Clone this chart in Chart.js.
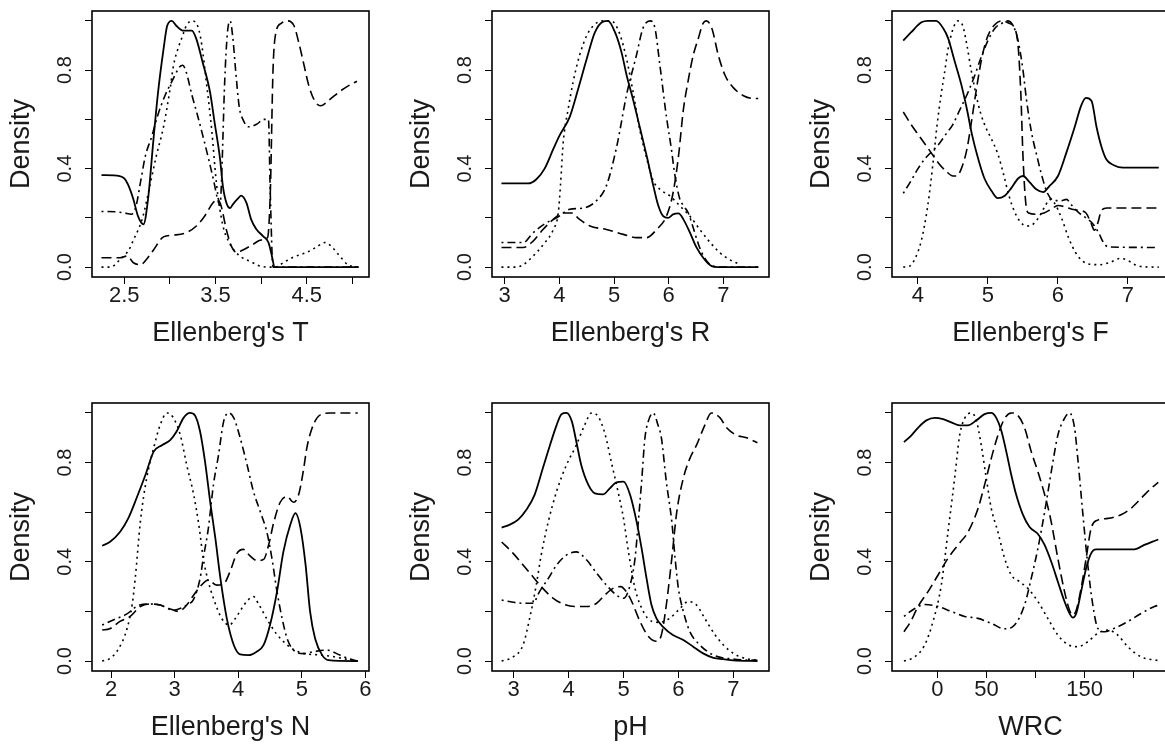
<!DOCTYPE html>
<html><head><meta charset="utf-8">
<script src="https://cdn.jsdelivr.net/npm/chart.js@4"></script>
<style>
html,body{margin:0;padding:0;background:#fff;width:1165px;height:745px;overflow:hidden;}
#wrap{position:relative;width:1165px;height:745px;overflow:hidden;background:#fff;}
canvas{position:absolute;}
</style></head><body><div id="wrap"></div>
<script>
// ---------- tick values / labels ----------
const yTicks = [0, 0.2, 0.4, 0.6, 0.8, 1.0];
const yTickLabels = ['0.0', '', '0.4', '', '0.8', ''];
const tTicks = [2.5, 3, 3.5, 4, 4.5, 5];
const tTickLabels = ['2.5', '', '3.5', '', '4.5', ''];
const rTicks = [3, 4, 5, 6, 7];
const rTickLabels = ['3', '4', '5', '6', '7'];
const fTicks = [4, 5, 6, 7];
const fTickLabels = ['4', '5', '6', '7'];
const nTicks = [2, 3, 4, 5, 6];
const nTickLabels = ['2', '3', '4', '5', '6'];
const phTicks = [3, 4, 5, 6, 7];
const phTickLabels = ['3', '4', '5', '6', '7'];
const wrcTicks = [0, 50, 100, 150, 200];
const wrcTickLabels = ['0', '50', '', '150', ''];
const axisTitles = ["Ellenberg's T", "Ellenberg's R", "Ellenberg's F", "Ellenberg's N", "pH", "WRC"];

// ---------- Ellenberg's T ----------
const tSolid = [[2.25,0.374],[2.45,0.37],[2.5,0.36],[2.54,0.336],[2.6,0.275],[2.65,0.207],[2.71,0.174],[2.76,0.275],[2.82,0.52],[2.87,0.71],[2.93,0.885],[2.97,0.98],[3.02,1.0],[3.07,0.98],[3.15,0.96],[3.24,0.96],[3.29,0.926],[3.36,0.83],[3.44,0.71],[3.49,0.587],[3.55,0.438],[3.58,0.33],[3.62,0.26],[3.66,0.24],[3.69,0.255],[3.75,0.28],[3.78,0.29],[3.84,0.26],[3.89,0.194],[3.95,0.153],[4.02,0.126],[4.08,0.1],[4.11,0.058],[4.15,0],[5.07,0]];
const tDashed = [[2.25,0.038],[2.45,0.038],[2.53,0.045],[2.6,0.018],[2.68,0.01],[2.74,0.03],[2.82,0.07],[2.93,0.123],[3.04,0.13],[3.18,0.14],[3.29,0.167],[3.38,0.207],[3.47,0.26],[3.52,0.275],[3.56,0.25],[3.62,0.15],[3.68,0.08],[3.73,0.06],[3.8,0.07],[3.9,0.09],[4.0,0.11],[4.07,0.12],[4.1,0.3],[4.13,0.8],[4.16,0.95],[4.22,0.99],[4.29,1.0],[4.36,0.98],[4.42,0.9],[4.47,0.82],[4.52,0.74],[4.58,0.68],[4.65,0.655],[4.75,0.68],[4.85,0.71],[4.95,0.735],[5.05,0.755]];
const tDotted = [[2.25,0],[2.35,0],[2.45,0.03],[2.55,0.07],[2.6,0.11],[2.7,0.2],[2.78,0.33],[2.85,0.45],[2.93,0.57],[3.0,0.72],[3.04,0.82],[3.1,0.9],[3.13,0.93],[3.18,0.98],[3.24,1.0],[3.29,0.99],[3.32,0.96],[3.35,0.9],[3.4,0.75],[3.46,0.55],[3.51,0.34],[3.58,0.17],[3.65,0.1],[3.75,0.05],[3.9,0.02],[4.0,0.003],[4.15,0],[4.25,0.02],[4.35,0.04],[4.5,0.06],[4.6,0.08],[4.7,0.1],[4.78,0.08],[4.85,0.05],[4.95,0.01],[5.07,0]];
const tDotDash = [[2.25,0.226],[2.4,0.225],[2.5,0.22],[2.58,0.215],[2.63,0.25],[2.68,0.35],[2.73,0.45],[2.8,0.53],[2.87,0.62],[2.95,0.7],[3.03,0.76],[3.1,0.81],[3.14,0.82],[3.18,0.79],[3.24,0.7],[3.3,0.62],[3.37,0.52],[3.43,0.43],[3.48,0.35],[3.52,0.28],[3.55,0.25],[3.57,0.4],[3.6,0.75],[3.63,0.95],[3.66,1.0],[3.69,0.93],[3.72,0.8],[3.76,0.65],[3.8,0.6],[3.86,0.57],[3.95,0.58],[4.03,0.6],[4.08,0.6],[4.1,0.3],[4.13,0.0],[5.07,0]];

// ---------- Ellenberg's R ----------
const rSolid = [[2.94,0.34],[3.2,0.34],[3.43,0.34],[3.58,0.357],[3.73,0.4],[3.89,0.48],[4.0,0.533],[4.19,0.61],[4.34,0.72],[4.5,0.845],[4.65,0.953],[4.8,0.997],[4.89,1.0],[5.02,0.953],[5.14,0.87],[5.23,0.78],[5.35,0.68],[5.47,0.57],[5.6,0.45],[5.72,0.33],[5.81,0.25],[5.9,0.207],[5.99,0.2],[6.08,0.214],[6.18,0.218],[6.27,0.194],[6.39,0.14],[6.51,0.08],[6.66,0.03],[6.79,0.004],[6.9,0],[7.64,0]];
const rDashed = [[2.94,0.08],[3.34,0.08],[3.52,0.106],[3.7,0.153],[3.89,0.194],[4.07,0.22],[4.22,0.22],[4.37,0.194],[4.56,0.167],[4.86,0.153],[5.17,0.133],[5.41,0.12],[5.6,0.12],[5.78,0.153],[5.96,0.207],[6.08,0.3],[6.18,0.45],[6.27,0.64],[6.36,0.76],[6.45,0.86],[6.54,0.926],[6.63,0.99],[6.69,1.0],[6.79,0.97],[6.91,0.86],[7.03,0.78],[7.18,0.73],[7.37,0.696],[7.55,0.685],[7.64,0.685]];
const rDotted = [[2.94,0],[3.21,0],[3.34,0.01],[3.52,0.045],[3.7,0.09],[3.89,0.153],[3.98,0.22],[4.02,0.33],[4.07,0.505],[4.16,0.64],[4.25,0.75],[4.37,0.86],[4.5,0.94],[4.62,0.98],[4.8,1.0],[4.95,1.0],[5.1,0.95],[5.23,0.845],[5.35,0.71],[5.47,0.56],[5.6,0.44],[5.72,0.35],[5.84,0.316],[6.02,0.29],[6.2,0.25],[6.39,0.207],[6.57,0.153],[6.76,0.1],[6.94,0.058],[7.12,0.03],[7.3,0.012]];
const rDotDash = [[2.94,0.1],[3.34,0.1],[3.52,0.14],[3.76,0.18],[3.95,0.2],[4.19,0.235],[4.44,0.24],[4.68,0.27],[4.86,0.33],[5.05,0.49],[5.23,0.7],[5.41,0.86],[5.53,0.97],[5.66,1.0],[5.75,0.97],[5.84,0.82],[5.96,0.61],[6.05,0.48],[6.11,0.38],[6.2,0.28],[6.27,0.25],[6.36,0.22],[6.45,0.16],[6.55,0.09],[6.65,0.04],[6.8,0.005],[7.0,0],[7.64,0]];

// ---------- Ellenberg's F ----------
const fSolid = [[3.79,0.92],[3.9,0.953],[4.05,0.994],[4.14,1.0],[4.26,1.0],[4.36,0.97],[4.43,0.93],[4.52,0.84],[4.62,0.74],[4.7,0.64],[4.77,0.54],[4.86,0.44],[4.95,0.36],[5.05,0.31],[5.14,0.28],[5.24,0.29],[5.33,0.32],[5.43,0.36],[5.5,0.37],[5.6,0.343],[5.69,0.316],[5.79,0.305],[5.88,0.33],[6.0,0.37],[6.12,0.465],[6.24,0.57],[6.33,0.655],[6.4,0.687],[6.48,0.675],[6.55,0.57],[6.62,0.49],[6.69,0.438],[6.79,0.415],[6.93,0.404],[7.44,0.404]];
const fDashed = [[3.79,0.63],[3.9,0.58],[4.0,0.54],[4.1,0.5],[4.2,0.46],[4.3,0.42],[4.4,0.39],[4.5,0.37],[4.55,0.37],[4.62,0.4],[4.7,0.48],[4.78,0.62],[4.85,0.75],[4.92,0.86],[5.0,0.94],[5.1,0.985],[5.2,1.0],[5.3,0.99],[5.38,0.97],[5.43,0.9],[5.47,0.7],[5.5,0.45],[5.54,0.26],[5.58,0.22],[5.7,0.215],[5.8,0.22],[5.9,0.235],[6.0,0.25],[6.1,0.245],[6.2,0.235],[6.3,0.23],[6.4,0.22],[6.47,0.18],[6.52,0.15],[6.57,0.18],[6.62,0.23],[6.7,0.24],[7.44,0.24]];
const fDotted = [[3.79,0],[3.88,0.004],[3.95,0.03],[4.05,0.11],[4.14,0.25],[4.21,0.41],[4.27,0.57],[4.33,0.7],[4.38,0.79],[4.43,0.885],[4.5,0.967],[4.57,1.0],[4.64,0.98],[4.7,0.9],[4.76,0.8],[4.83,0.7],[4.9,0.62],[4.98,0.56],[5.05,0.52],[5.14,0.46],[5.22,0.38],[5.3,0.29],[5.38,0.225],[5.46,0.185],[5.55,0.167],[5.62,0.17],[5.72,0.2],[5.82,0.25],[5.88,0.275],[5.95,0.26],[6.05,0.2],[6.15,0.12],[6.25,0.06],[6.35,0.025],[6.45,0.012],[6.6,0.01],[6.75,0.02],[6.88,0.035],[6.98,0.03],[7.1,0.01],[7.2,0.002],[7.44,0]];
const fDotDash = [[3.79,0.3],[3.9,0.35],[4.0,0.4],[4.1,0.44],[4.2,0.47],[4.3,0.5],[4.4,0.54],[4.5,0.58],[4.6,0.64],[4.7,0.7],[4.8,0.77],[4.9,0.85],[5.0,0.92],[5.1,0.97],[5.2,0.99],[5.28,1.0],[5.36,0.98],[5.43,0.92],[5.5,0.8],[5.55,0.68],[5.62,0.55],[5.7,0.45],[5.78,0.36],[5.85,0.3],[5.95,0.27],[6.05,0.27],[6.12,0.275],[6.2,0.25],[6.3,0.22],[6.4,0.2],[6.5,0.175],[6.58,0.14],[6.65,0.1],[6.72,0.082],[7.44,0.08]];

// ---------- Ellenberg's N ----------
const nSolid = [[1.86,0.465],[1.98,0.48],[2.14,0.52],[2.27,0.575],[2.4,0.656],[2.54,0.75],[2.67,0.844],[2.8,0.87],[2.93,0.89],[3.03,0.925],[3.14,0.98],[3.24,1.0],[3.32,0.99],[3.4,0.925],[3.48,0.8],[3.56,0.64],[3.64,0.495],[3.72,0.333],[3.82,0.172],[3.93,0.065],[4.03,0.027],[4.16,0.024],[4.29,0.038],[4.4,0.065],[4.5,0.145],[4.61,0.28],[4.71,0.44],[4.82,0.55],[4.9,0.596],[4.98,0.535],[5.06,0.387],[5.13,0.2],[5.21,0.09],[5.32,0.024],[5.42,0.004],[5.88,0]];
const nDashed = [[1.86,0.125],[1.98,0.13],[2.14,0.16],[2.3,0.18],[2.46,0.22],[2.61,0.23],[2.77,0.226],[2.93,0.21],[3.06,0.2],[3.19,0.226],[3.3,0.266],[3.4,0.3],[3.53,0.327],[3.66,0.306],[3.77,0.31],[3.87,0.36],[3.98,0.434],[4.08,0.45],[4.18,0.425],[4.3,0.405],[4.4,0.41],[4.48,0.47],[4.56,0.56],[4.66,0.64],[4.77,0.663],[4.87,0.64],[4.95,0.67],[5.02,0.76],[5.08,0.86],[5.15,0.93],[5.24,0.98],[5.35,0.998],[5.45,1.0],[5.88,1.0]];
const nDotted = [[1.86,0],[1.98,0.01],[2.12,0.05],[2.25,0.13],[2.33,0.225],[2.38,0.333],[2.46,0.56],[2.56,0.737],[2.67,0.858],[2.77,0.95],[2.88,1.0],[2.98,0.98],[3.09,0.91],[3.19,0.79],[3.3,0.67],[3.38,0.55],[3.45,0.414],[3.53,0.32],[3.61,0.253],[3.74,0.172],[3.86,0.145],[3.95,0.17],[4.05,0.21],[4.15,0.245],[4.24,0.26],[4.32,0.23],[4.45,0.17],[4.6,0.11],[4.75,0.07],[4.88,0.045],[5.05,0.03],[5.25,0.025],[5.45,0.02],[5.65,0.01],[5.88,0]];
const nDotDash = [[1.86,0.145],[2.09,0.172],[2.25,0.19],[2.4,0.22],[2.56,0.23],[2.77,0.226],[2.98,0.205],[3.19,0.226],[3.3,0.25],[3.4,0.333],[3.45,0.414],[3.53,0.535],[3.61,0.71],[3.69,0.83],[3.77,0.965],[3.85,1.0],[3.93,0.98],[4.03,0.9],[4.14,0.79],[4.24,0.683],[4.35,0.6],[4.45,0.52],[4.53,0.414],[4.61,0.28],[4.69,0.172],[4.77,0.09],[4.87,0.044],[5.03,0.03],[5.19,0.038],[5.4,0.044],[5.6,0.024],[5.76,0.008],[5.88,0]];

// ---------- pH ----------
const phSolid = [[2.78,0.538],[2.93,0.55],[3.08,0.57],[3.23,0.61],[3.38,0.67],[3.53,0.777],[3.66,0.87],[3.78,0.95],[3.87,0.995],[3.96,1.0],[4.06,0.965],[4.14,0.885],[4.23,0.79],[4.36,0.71],[4.48,0.676],[4.63,0.672],[4.75,0.696],[4.87,0.72],[5.0,0.723],[5.12,0.67],[5.24,0.56],[5.33,0.454],[5.42,0.333],[5.51,0.226],[5.6,0.172],[5.72,0.138],[5.9,0.105],[6.09,0.085],[6.27,0.058],[6.45,0.031],[6.64,0.013],[6.82,0.008],[7.0,0.003],[7.44,0]];
const phDashed = [[2.78,0.48],[2.99,0.434],[3.17,0.387],[3.35,0.34],[3.53,0.293],[3.72,0.253],[3.9,0.23],[4.11,0.22],[4.33,0.22],[4.51,0.233],[4.66,0.266],[4.81,0.293],[4.95,0.3],[5.05,0.28],[5.15,0.24],[5.3,0.16],[5.45,0.1],[5.6,0.08],[5.69,0.105],[5.78,0.226],[5.88,0.414],[5.97,0.6],[6.09,0.737],[6.21,0.817],[6.33,0.87],[6.48,0.95],[6.6,1.0],[6.76,0.98],[6.88,0.94],[7.06,0.91],[7.24,0.9],[7.44,0.88]];
const phDotted = [[2.78,0],[2.99,0.017],[3.17,0.065],[3.29,0.172],[3.41,0.306],[3.5,0.427],[3.63,0.562],[3.78,0.683],[3.96,0.79],[4.14,0.87],[4.29,0.95],[4.42,1.0],[4.54,0.985],[4.66,0.918],[4.78,0.8],[4.9,0.683],[5.0,0.575],[5.09,0.44],[5.21,0.293],[5.36,0.2],[5.51,0.161],[5.66,0.156],[5.84,0.172],[6.03,0.212],[6.18,0.24],[6.33,0.226],[6.48,0.172],[6.67,0.105],[6.82,0.065],[7.0,0.031],[7.18,0.013],[7.43,0.003]];
const phDotDash = [[2.78,0.246],[2.99,0.237],[3.17,0.233],[3.35,0.233],[3.47,0.28],[3.63,0.333],[3.78,0.387],[3.96,0.427],[4.14,0.44],[4.33,0.407],[4.51,0.354],[4.69,0.306],[4.87,0.266],[5.0,0.253],[5.12,0.306],[5.21,0.414],[5.27,0.562],[5.33,0.723],[5.39,0.898],[5.45,0.965],[5.54,1.0],[5.63,0.95],[5.69,0.9],[5.78,0.723],[5.88,0.562],[5.94,0.414],[6.0,0.293],[6.09,0.2],[6.21,0.118],[6.39,0.065],[6.64,0.024],[7.0,0.008],[7.44,0.003]];

// ---------- WRC ----------
const wrcSolid = [[-34,0.882],[-26.4,0.91],[-19.7,0.94],[-11.2,0.97],[-2.7,0.98],[5.8,0.975],[14.2,0.962],[22.7,0.95],[31.2,0.95],[39.7,0.97],[48.1,0.995],[54.9,1.0],[60,0.98],[65,0.93],[70.2,0.844],[75.3,0.75],[80.3,0.67],[87.1,0.59],[93.9,0.54],[102.4,0.512],[109.2,0.468],[116,0.4],[122.7,0.32],[129.5,0.24],[134.6,0.192],[138,0.175],[141.4,0.192],[146.4,0.28],[151.5,0.374],[156.6,0.434],[161.7,0.45],[173.6,0.45],[200.7,0.45],[210.8,0.468],[221,0.484],[225,0.49]];
const wrcDashed = [[-34,0.118],[-26.4,0.165],[-19.7,0.22],[-9.5,0.28],[0.7,0.347],[10.8,0.414],[21,0.468],[31.2,0.52],[41.4,0.615],[48.1,0.71],[54.9,0.817],[61.7,0.91],[68.5,0.978],[75.3,1.0],[82,0.99],[88.8,0.94],[95.6,0.844],[102.4,0.763],[107.5,0.696],[112,0.63],[116,0.56],[122.7,0.414],[129.5,0.28],[134.6,0.205],[138,0.185],[141.4,0.205],[146.4,0.293],[151.5,0.414],[156.6,0.535],[163.4,0.568],[173.6,0.575],[187,0.59],[197,0.615],[207.5,0.656],[217.6,0.696],[225,0.72]];
const wrcDotted = [[-34,0],[-23,0.017],[-12.9,0.065],[-4.4,0.16],[4,0.306],[10.8,0.52],[17.6,0.737],[22.7,0.91],[27.8,0.978],[34.6,1.0],[39.7,0.97],[44.7,0.87],[49.8,0.737],[54.9,0.615],[61.7,0.52],[68.5,0.414],[75.3,0.347],[83.7,0.32],[92.2,0.293],[102.4,0.24],[112.5,0.172],[122.7,0.105],[132.9,0.067],[143,0.058],[153.2,0.078],[163.4,0.112],[173.6,0.125],[183.7,0.105],[193.9,0.058],[207.5,0.017],[225,0.002]];
const wrcDotDash = [[-34,0.18],[-23,0.212],[-12.9,0.228],[0.7,0.22],[14.2,0.2],[27.8,0.18],[41.4,0.172],[54.9,0.152],[68.5,0.13],[78.6,0.145],[88.8,0.226],[95.6,0.333],[102.4,0.454],[109.2,0.6],[116,0.763],[122.7,0.91],[129.5,0.978],[134.6,1.0],[139.7,0.94],[143,0.817],[148,0.6],[153.2,0.387],[158.3,0.226],[163.4,0.132],[170.2,0.118],[180.3,0.132],[193.9,0.159],[207.5,0.192],[221,0.22],[225,0.225]];

// ---------- layout / style (not data) ----------
const FONT = '"Liberation Sans", Arial, Helvetica, sans-serif';
const INK = '#1a1a1a';
const lineStyles = [
  {dash: [], width: 1.8},
  {dash: [10, 5], width: 1.6},
  {dash: [2, 4], width: 1.6},
  {dash: [2, 4, 8, 4], width: 1.6}
];
const AXW = 100, AXH = 80, PADT = 11, PADR = 20, BOXW = 277;

const panels = [
  {boxL: 92,  boxT: 11,  boxH: 266, min: 2.146, max: 5.182, ticks: tTicks,  labels: tTickLabels,  title: axisTitles[0], series: [tSolid, tDashed, tDotted, tDotDash]},
  {boxL: 492, boxT: 11,  boxH: 266, min: 2.767, max: 7.837, ticks: rTicks,  labels: rTickLabels,  title: axisTitles[1], series: [rSolid, rDashed, rDotted, rDotDash]},
  {boxL: 892, boxT: 11,  boxH: 266, min: 3.629, max: 7.586, ticks: fTicks,  labels: fTickLabels,  title: axisTitles[2], series: [fSolid, fDashed, fDotted, fDotDash]},
  {boxL: 92,  boxT: 403, boxH: 268, min: 1.70,  max: 6.057, ticks: nTicks,  labels: nTickLabels,  title: axisTitles[3], series: [nSolid, nDashed, nDotted, nDotDash]},
  {boxL: 492, boxT: 403, boxH: 268, min: 2.604, max: 7.651, ticks: phTicks, labels: phTickLabels, title: axisTitles[4], series: [phSolid, phDashed, phDotted, phDotDash]},
  {boxL: 892, boxT: 403, boxH: 268, min: -46.2, max: 235.9, ticks: wrcTicks, labels: wrcTickLabels, title: axisTitles[5], series: [wrcSolid, wrcDashed, wrcDotted, wrcDotDash]}
];

const framePlugin = {
  id: 'frame',
  afterDatasetsDraw(chart) {
    const {ctx, chartArea: a} = chart;
    ctx.save();
    ctx.strokeStyle = '#000';
    ctx.lineWidth = 1.6;
    ctx.setLineDash([]);
    ctx.strokeRect(a.left, a.top, a.right - a.left, a.bottom - a.top);
    ctx.restore();
  }
};

const wrap = document.getElementById('wrap');
panels.forEach(p => {
  const W = AXW + BOXW + PADR, H = PADT + p.boxH + AXH;
  const c = document.createElement('canvas');
  c.width = W; c.height = H;
  c.style.width = W + 'px'; c.style.height = H + 'px';
  c.style.left = (p.boxL - AXW) + 'px';
  c.style.top = (p.boxT - PADT) + 'px';
  wrap.appendChild(c);
  new Chart(c, {
    type: 'line',
    data: {
      datasets: p.series.map((s, i) => ({
        data: s.map(pt => ({x: pt[0], y: pt[1]})),
        borderColor: '#000',
        borderWidth: lineStyles[i].width,
        borderDash: lineStyles[i].dash,
        pointRadius: 0,
        fill: false,
        cubicInterpolationMode: 'monotone'
      }))
    },
    options: {
      responsive: false, animation: false, devicePixelRatio: 1, events: [],
      plugins: {legend: {display: false}, tooltip: {enabled: false}},
      layout: {padding: {top: PADT, right: PADR, left: 0, bottom: 0}},
      scales: {
        x: {
          type: 'linear', min: p.min, max: p.max,
          afterBuildTicks: sc => { sc.ticks = p.ticks.map(v => ({value: v})); },
          afterFit: sc => { sc.height = AXH; sc.paddingLeft = 0; sc.paddingRight = 0; },
          ticks: {autoSkip: false, maxRotation: 0, minRotation: 0, padding: 1, color: INK,
                  font: {family: FONT, size: 22, lineHeight: 1},
                  callback: (v, i) => p.labels[i]},
          grid: {drawOnChartArea: false, drawTicks: true, tickLength: 7, color: '#000', lineWidth: 1},
          border: {display: false},
          title: {display: true, text: p.title, color: INK, font: {family: FONT, size: 27, lineHeight: 1}, padding: {top: 0, bottom: 9.5}}
        },
        y: {
          type: 'linear', min: -0.04, max: 1.04,
          afterBuildTicks: sc => { sc.ticks = yTicks.map(v => ({value: v})); },
          afterFit: sc => { sc.width = AXW; sc.paddingTop = 0; sc.paddingBottom = 0; },
          ticks: {autoSkip: false, minRotation: 90, maxRotation: 90, crossAlign: 'center', padding: 5.5, color: INK,
                  font: {family: FONT, size: 20, lineHeight: 1},
                  callback: (v, i) => yTickLabels[i]},
          grid: {drawOnChartArea: false, drawTicks: true, tickLength: 7, color: '#000', lineWidth: 1},
          border: {display: false},
          title: {display: true, text: 'Density', color: INK, font: {family: FONT, size: 27, lineHeight: 1}, padding: {top: 16.5, bottom: 0}}
        }
      }
    },
    plugins: [framePlugin]
  });
});
</script>
</body></html>
